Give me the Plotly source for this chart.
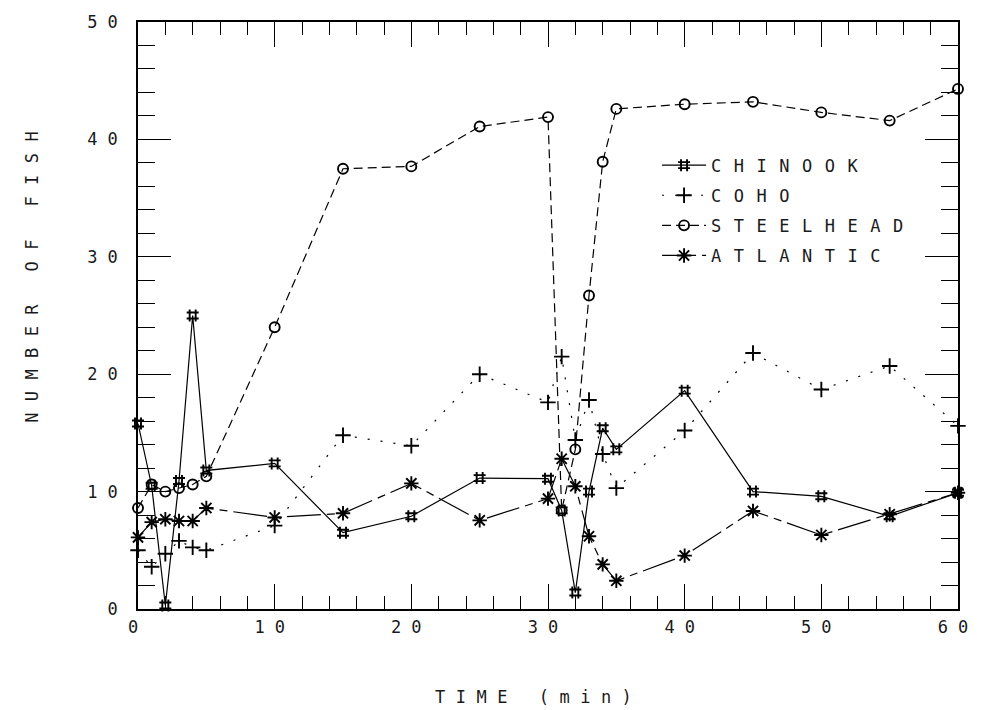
import plotly.graph_objects as go

# ---- data ----
time_min = [0, 1, 2, 3, 4, 5, 10, 15, 20, 25, 30, 31, 32, 33, 34, 35, 40, 45, 50, 55, 60]
chinook = [15.8, 10.5, 0.3, 10.9, 25.0, 11.8, 12.4, 6.5, 7.9, 11.15, 11.1, 8.4, 1.4, 10.0, 15.4, 13.6, 18.6, 10.0, 9.6, 7.9, 9.9]
coho = [5.0, 3.6, 4.7, 5.8, 5.25, 5.0, 7.1, 14.8, 13.9, 20.0, 17.6, 21.5, 14.4, 17.8, 13.2, 10.3, 15.2, 21.8, 18.7, 20.7, 15.6]
steelhead = [8.6, 10.6, 10.0, 10.3, 10.6, 11.3, 24.0, 37.5, 37.7, 41.1, 41.9, 8.4, 13.6, 26.7, 38.1, 42.6, 43.0, 43.2, 42.3, 41.6, 44.3]
atlantic = [6.1, 7.4, 7.65, 7.5, 7.5, 8.6, 7.8, 8.15, 10.7, 7.55, 9.4, 12.8, 10.45, 6.2, 3.8, 2.4, 4.55, 8.35, 6.3, 8.07, 9.9]

series_names = ["CHINOOK", "COHO", "STEELHEAD", "ATLANTIC"]
x_tick_vals = [0, 10, 20, 30, 40, 50, 60]
x_tick_text = ["0", "10", "20", "30", "40", "50", "60"]
y_tick_vals = [0, 10, 20, 30, 40, 50]
y_tick_text = ["0", "10", "20", "30", "40", "50"]
x_title = "TIME (min)"
y_title = "NUMBER OF FISH"

FONT = "DejaVu Sans Mono"
INK = "#1a1a1a"


def spaced(t, sp):
    return '<span style="letter-spacing:%spx">%s</span>' % (sp, t)


styles = [
    dict(symbol="hash-open", dash="solid", size=12),
    dict(symbol="cross-thin-open", dash="2px,11px", size=11),
    dict(symbol="circle-open", dash="9px,5px", size=10),
    dict(symbol="asterisk-open", dash="34px,6px,8px,6px", size=12),
]

fig = go.Figure()
for name, ys, st in zip(series_names, [chinook, coho, steelhead, atlantic], styles):
    fig.add_trace(go.Scatter(
        x=time_min, y=ys, name=spaced(name, 12.5), mode="lines+markers",
        legendgroup=name,
        line=dict(color="black", width=1.2, dash=st["dash"]),
        marker=dict(symbol=st["symbol"], size=st["size"], color="black",
                    line=dict(color="black", width=1.9)),
        cliponaxis=False,
    ))

axis_common = dict(
    showline=True, linecolor="black", linewidth=1.5, mirror="ticks",
    ticks="inside", tickcolor="black", tickwidth=1.2,
    showgrid=False, zeroline=False,
    tickfont=dict(family=FONT, size=17, color=INK),
)

fig.update_xaxes(
    range=[0, 60], tickmode="array", tickvals=x_tick_vals,
    ticktext=[spaced(t, 10) for t in x_tick_text], ticklen=25,
    minor=dict(dtick=2, ticks="inside", ticklen=13, tickwidth=1.2, tickcolor="black"),
    ticklabelstandoff=2,
    **axis_common,
)
fig.update_yaxes(
    range=[0, 50], tickmode="array", tickvals=y_tick_vals,
    ticktext=[spaced(t, 10) for t in y_tick_text], ticklen=33,
    minor=dict(dtick=2, ticks="inside", ticklen=17, tickwidth=1.2, tickcolor="black"),
    ticklabelstandoff=5,
    **axis_common,
)

fig.add_annotation(
    text=spaced(x_title, 10.5), xref="paper", yref="paper",
    x=0.4886, y=-0.150, xanchor="center", yanchor="middle", showarrow=False,
    font=dict(family=FONT, size=17, color=INK),
)
fig.add_annotation(
    text=spaced(y_title, 11.4), xref="paper", yref="paper", textangle=-90,
    x=-0.1288, y=0.575, xanchor="center", yanchor="middle", showarrow=False,
    font=dict(family=FONT, size=17, color=INK),
)

fig.update_layout(
    width=990, height=710, autosize=False,
    margin=dict(l=138, r=21, t=16, b=101),
    plot_bgcolor="white", paper_bgcolor="white",
    showlegend=True,
    legend=dict(x=0.633, y=0.786, xanchor="left", yanchor="top", itemwidth=44,
                bgcolor="rgba(0,0,0,0)", traceorder="grouped", tracegroupgap=5,
                font=dict(family=FONT, size=17, color=INK)),
)

fig.write_html("out.html")
